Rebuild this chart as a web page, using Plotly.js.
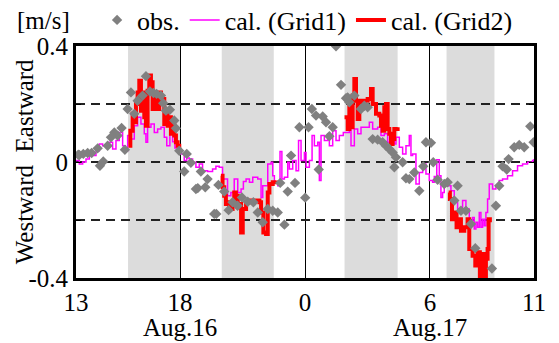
<!DOCTYPE html>
<html>
<head>
<meta charset="utf-8">
<script src="https://cdn.plot.ly/plotly-3.0.1.min.js"></script>
<style>html,body{margin:0;padding:0;background:#fff;}#chart{width:559px;height:343px;}</style>
</head>
<body>
<div id="chart"></div>
<script>
// Hours since Aug.16 00:00 (13 = Aug.16 13:00, 35 = Aug.17 11:00)
const obsHour = [13.11,13.16,13.35,13.56,13.75,14.04,14.15,14.31,14.52,14.68,14.84,15.00,15.19,15.35,15.48,15.64,15.80,15.96,16.20,16.36,16.55,16.72,16.87,17.08,17.19,17.32,17.51,17.72,17.80,17.96,
  18.20,18.32,18.52,18.76,18.85,19.00,19.21,19.32,19.64,19.74,19.84,20.12,20.33,20.52,20.76,20.97,21.25,21.52,21.73,21.97,22.21,22.45,22.69,22.81,23.01,23.17,23.33,23.52,23.73,24.01,
  24.17,24.33,24.53,24.66,24.85,25.01,25.17,25.33,25.49,25.73,25.97,26.05,26.13,26.37,26.69,26.85,27.01,27.25,27.49,27.73,27.89,28.05,28.21,28.29,28.37,28.69,28.85,29.01,29.25,29.49,
  29.68,29.81,30.05,30.16,30.37,30.69,30.85,31.17,31.33,31.49,31.73,31.97,32.18,32.98,33.17,33.33,33.49,33.69,33.78,34.05,34.29,34.53,34.82,34.98];
const obsVal = [0.025,0.024,0.028,0.031,0.031,0.047,-0.013,0.002,0.056,0.085,0.102,0.091,0.117,0.042,0.183,0.240,0.166,0.211,0.229,0.296,0.243,0.238,0.235,0.229,0.203,0.177,0.180,0.143,0.116,0.039,
  -0.033,0.028,-0.003,-0.093,-0.090,-0.033,-0.087,-0.059,-0.179,-0.179,-0.079,-0.102,-0.166,-0.139,-0.151,-0.122,-0.137,-0.139,-0.174,-0.208,-0.162,-0.168,-0.174,-0.072,-0.216,-0.102,0.022,-0.072,0.120,-0.123,
  0.120,0.183,0.160,-0.026,0.157,0.137,0.089,0.120,0.399,0.266,0.220,0.223,0.206,0.229,0.183,0.194,0.189,0.079,0.077,0.068,0.056,0.045,0.033,-0.018,0.016,-0.001,-0.056,-0.059,-0.036,-0.099,
  -0.015,0.068,0.066,-0.001,-0.061,-0.076,-0.070,-0.133,-0.082,-0.168,-0.168,-0.214,-0.297,-0.367,-0.151,-0.082,-0.015,-0.026,0.010,0.051,0.059,0.051,0.123,0.068];

const grid1Hour = [13.00,13.16,13.32,13.48,13.64,13.80,13.96,14.12,14.28,14.44,14.60,14.76,14.92,15.08,15.24,15.37,15.48,15.64,15.80,15.96,16.12,16.28,16.36,16.44,16.60,16.76,16.92,17.08,17.24,17.36,
  17.51,17.64,17.75,17.90,18.04,18.20,18.32,18.44,18.60,18.76,18.92,19.08,19.32,19.56,19.72,19.88,20.04,20.28,20.44,20.60,20.77,20.93,21.04,21.17,21.33,21.49,21.73,21.81,21.89,21.97,
  22.13,22.21,22.37,22.45,22.53,22.69,22.80,22.89,23.01,23.17,23.25,23.41,23.57,23.69,23.81,23.97,24.05,24.21,24.34,24.45,24.61,24.69,24.77,24.93,25.09,25.17,25.33,25.49,25.65,25.84,
  25.97,26.13,26.21,26.37,26.53,26.69,26.85,27.09,27.25,27.49,27.65,27.81,27.97,28.13,28.29,28.37,28.53,28.69,28.85,29.01,29.09,29.17,29.33,29.49,29.65,29.81,29.97,30.13,30.21,30.33,
  30.45,30.53,30.61,30.69,30.93,31.01,31.17,31.33,31.49,31.57,31.73,31.89,32.05,32.13,32.21,32.29,32.37,32.45,32.53,32.61,32.69,32.77,32.85,33.01,33.17,33.33,33.49,33.73,33.97,34.21,
  34.45,34.69,34.93,35.00];
const grid1Val = [0.005,-0.007,0.000,0.010,0.028,0.022,0.039,0.062,0.056,0.062,0.068,0.045,0.074,0.102,0.056,0.039,0.091,0.079,0.125,0.154,0.131,0.097,0.068,0.120,0.131,0.102,0.114,0.120,0.085,0.056,
  0.106,0.070,0.048,0.040,0.028,0.005,0.014,0.010,-0.001,-0.018,-0.007,-0.030,-0.033,-0.024,-0.015,-0.018,-0.059,-0.116,-0.105,-0.059,-0.105,-0.093,-0.067,-0.059,-0.070,-0.053,-0.059,-0.059,-0.122,-0.082,
  -0.082,-0.007,-0.001,-0.047,-0.070,-0.082,0.036,-0.059,-0.053,-0.001,-0.024,0.005,-0.030,0.074,0.005,0.033,-0.018,0.005,0.091,0.056,0.068,-0.064,0.091,0.074,0.097,0.056,0.108,0.074,0.091,0.102,
  0.102,0.114,0.056,0.114,0.097,0.120,0.120,0.137,0.114,0.120,0.091,0.097,0.068,0.079,0.062,0.085,0.051,0.028,0.056,0.091,0.022,0.028,-0.076,-0.036,-0.007,-0.041,-0.064,-0.070,-0.050,0.008,
  -0.047,-0.122,-0.105,-0.082,-0.082,-0.099,-0.139,-0.162,-0.168,-0.133,-0.162,-0.202,-0.191,-0.231,-0.208,-0.225,-0.174,-0.225,-0.197,-0.220,-0.174,-0.128,-0.076,-0.093,-0.082,-0.064,-0.059,-0.047,-0.030,-0.013,
  -0.007,-0.001,0.005,0.010];

const grid2Hour = [15.52,15.61,15.72,15.80,15.88,15.96,16.04,16.12,16.20,16.28,16.36,16.44,16.52,16.60,16.68,16.76,16.84,16.92,17.00,17.08,17.16,17.24,17.32,17.40,17.48,17.56,17.64,17.72,17.80,17.88,17.96,null,
  19.96,20.04,20.12,20.20,20.28,20.36,20.44,20.52,20.60,20.68,20.77,20.85,20.93,21.01,21.17,21.41,21.65,21.81,21.89,22.00,22.13,22.21,22.29,22.45,22.61,null,
  25.90,25.97,26.05,26.13,26.21,26.29,26.37,26.45,26.53,26.61,26.69,26.85,27.01,27.17,27.25,27.41,27.57,27.65,27.73,27.81,27.89,27.97,28.05,28.13,28.21,28.29,28.45,null,
  30.90,30.96,31.06,31.17,31.28,31.41,31.49,31.65,31.81,31.89,32.05,32.18,32.29,32.40,32.50,32.61,32.69,32.77,32.82,32.88];
const grid2Val = [0.056,0.108,0.166,0.137,0.200,0.240,0.280,0.177,0.240,0.154,0.125,0.246,0.298,0.275,0.183,0.200,0.229,0.183,0.240,0.206,0.217,0.131,0.177,0.125,0.154,0.097,0.143,0.091,0.068,0.056,0.033,null,
  -0.047,-0.087,-0.116,-0.145,-0.139,-0.151,-0.162,-0.139,-0.105,-0.116,-0.156,-0.145,-0.243,-0.162,-0.139,-0.133,-0.133,-0.139,-0.174,-0.243,-0.248,-0.105,-0.076,-0.070,-0.064,null,
  0.154,0.154,0.114,0.194,0.120,0.229,0.286,0.211,0.148,0.211,0.200,0.211,0.217,0.252,0.200,0.166,0.160,0.125,0.108,0.189,0.200,0.114,0.097,0.062,0.079,0.114,0.120,null,
  -0.105,-0.128,-0.197,-0.174,-0.225,-0.197,-0.237,-0.225,-0.197,-0.300,-0.323,-0.357,-0.311,-0.400,-0.317,-0.400,-0.334,-0.300,-0.197,-0.208];

// shaded periods [start, end] in hours
const shadeStart = [15.5, 20.0, 25.9, 30.8];
const shadeEnd   = [18.0, 22.5, 28.45, 33.1];

const xTickVals = [13, 18, 24, 30, 35];
const xTickText = ['13', '18', '0', '6', '11'];
const dateLabels = ['Aug.16', 'Aug.17'];
const dateLabelHour = [18, 30];
const yTickVals = [-0.4, -0.2, 0, 0.2, 0.4];
const yTickText = ['-0.4', '', '0', '', '0.4'];

const FONT = 'Liberation Serif';

const traces = [
  {x: grid1Hour, y: grid1Val, type: 'scatter', mode: 'lines', name: 'cal. (Grid1)',
   line: {color: '#ff00ff', width: 1.5, shape: 'hv'}, legendrank: 2},
  {x: grid2Hour, y: grid2Val, type: 'scatter', mode: 'lines', name: 'cal. (Grid2)',
   line: {color: '#ff0000', width: 4, shape: 'hv'}, connectgaps: false, legendrank: 3},
  {x: obsHour, y: obsVal, type: 'scatter', mode: 'markers', name: 'obs.',
   marker: {symbol: 'diamond', size: 8, color: '#808080'}, legendrank: 1}
];

const shapes = shadeStart.map((s, i) => ({
  type: 'rect', xref: 'x', yref: 'paper', x0: s, x1: shadeEnd[i], y0: 0, y1: 1,
  fillcolor: '#dcdcdc', line: {width: 0}, layer: 'below'
}));

const annotations = [
  {text: '[m/s]', xref: 'paper', yref: 'paper', x: -0.072, y: 1.112, xanchor: 'center', yanchor: 'middle',
   showarrow: false, font: {family: FONT, size: 25}},
  {text: 'Westward&nbsp;&nbsp;Eastward', xref: 'paper', yref: 'paper', x: -0.113, y: 0.5, textangle: -90,
   xanchor: 'center', yanchor: 'middle', showarrow: false, font: {family: FONT, size: 25}}
].concat(dateLabels.map((t, i) => ({
  text: t, xref: 'x', yref: 'paper', x: dateLabelHour[i], y: -0.215, xanchor: 'center', yanchor: 'middle',
  showarrow: false, font: {family: FONT, size: 25}
})));

const layout = {
  width: 559, height: 343,
  margin: {l: 76, r: 25, t: 46, b: 65, autoexpand: false},
  paper_bgcolor: '#fff', plot_bgcolor: '#fff',
  font: {family: FONT, size: 25, color: '#000'},
  showlegend: true,
  legend: {orientation: 'h', x: 0.046, y: 1.112, xanchor: 'left', yanchor: 'middle',
           font: {family: FONT, size: 26}, bgcolor: 'rgba(0,0,0,0)', itemwidth: 30, tracegroupgap: 0},
  xaxis: {range: [13, 35], tickmode: 'array', tickvals: xTickVals, ticktext: xTickText,
          showgrid: true, gridcolor: '#000', gridwidth: 1, zeroline: false,
          showline: true, linecolor: '#000', linewidth: 3, mirror: 'ticks',
          ticks: 'inside', ticklen: 5, tickwidth: 1, tickcolor: '#000',
          tickfont: {family: FONT, size: 25}, fixedrange: true},
  yaxis: {range: [-0.4, 0.4], tickmode: 'array', tickvals: yTickVals, ticktext: yTickText,
          showgrid: true, gridcolor: '#222', gridwidth: 1.2, griddash: '9px,6px', zeroline: false,
          showline: true, linecolor: '#000', linewidth: 3, mirror: 'ticks',
          ticks: 'inside', ticklen: 5, tickwidth: 1, tickcolor: '#000',
          tickfont: {family: FONT, size: 25}, fixedrange: true},
  shapes: shapes,
  annotations: annotations
};

Plotly.newPlot('chart', traces, layout, {displayModeBar: false, staticPlot: true});
</script>
</body>
</html>
